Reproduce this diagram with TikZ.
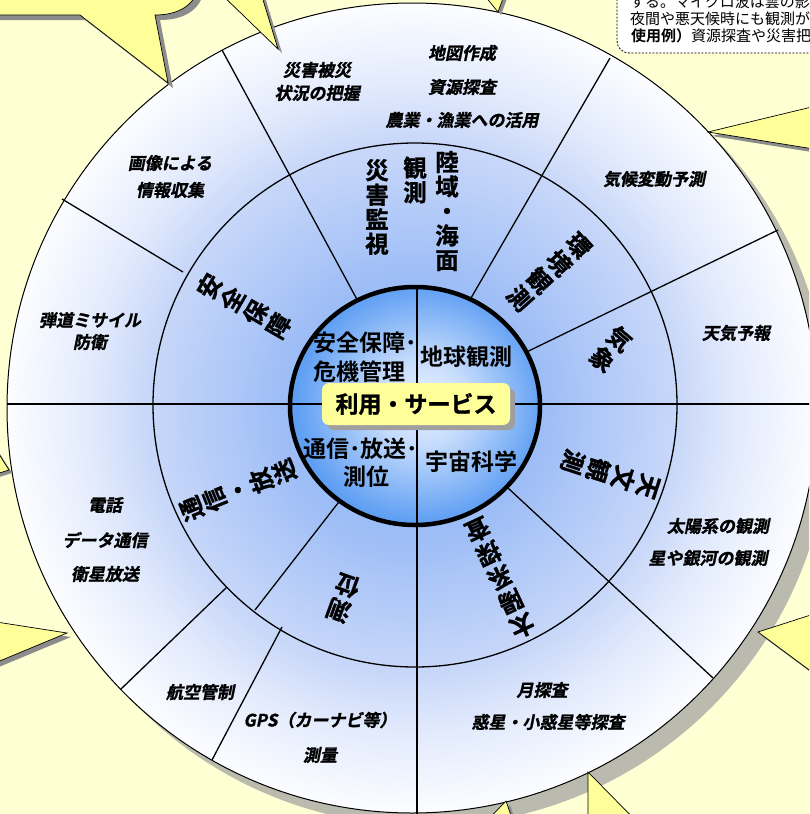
\documentclass[tikz,border=0pt]{standalone}
\usepackage{fontspec}
\newfontfamily\jp{Noto Sans CJK JP}
\newfontfamily\jpb{Noto Sans CJK JP Bold}
\newfontfamily\jpbb{Noto Sans CJK JP Bold}[FakeBold=1.2]
\newfontfamily\jpbi{Noto Sans CJK JP Bold}[FakeSlant=0.2, FakeBold=1.3]
\usetikzlibrary{shadows}
\definecolor{bgc}{HTML}{FFFFD4}
\definecolor{spk}{HTML}{FFFF99}
\definecolor{shd}{HTML}{8C8C8C}
\definecolor{ringshadow}{HTML}{BABAAE}
\definecolor{boxy}{HTML}{FFFF99}
\definecolor{rA}{HTML}{9DBDF6}
\definecolor{rB}{HTML}{B2CAF8}
\definecolor{rC}{HTML}{C9D8F9}
\definecolor{rE}{HTML}{E2EAFC}
\definecolor{rD}{HTML}{FCFDFF}
\definecolor{iA}{HTML}{E8F1FF}
\definecolor{iB}{HTML}{C6DCFC}
\definecolor{iC}{HTML}{5E9EF3}
\pgfdeclareradialshading{ringsh}{\pgfpoint{0bp}{0bp}}{color(0bp)=(rA); color(8bp)=(rA); color(12bp)=(rB); color(16.5bp)=(rC); color(20bp)=(rE); color(25bp)=(rD); color(50bp)=(rD)}
\pgfdeclareradialshading{innersh}{\pgfpoint{2bp}{1bp}}{color(0bp)=(iA); color(9bp)=(iB); color(25bp)=(iC); color(50bp)=(iC)}
\begin{document}
\begin{tikzpicture}[x=1pt,y=-1pt,
  spike/.style={fill=spk, draw=black, line width=0.7pt, line join=miter},
  spikeshadow/.style={fill=shd},
  spoke/.style={draw=black, line width=1.3pt},
  outtxt/.style={font=\jpbi\fontsize{17}{20}\selectfont, inner sep=0},
  midlbl/.style={font=\jpbb\fontsize{24}{26.5}\selectfont, align=center, inner sep=0},
  toplbl/.style={font=\jpbb\fontsize{23.5}{24.5}\selectfont, align=center, inner sep=0},
  inlbl/.style={font=\jpb\fontsize{23}{26}\selectfont, inner sep=0},
  notetxt/.style={font=\jp\fontsize{15}{17}\selectfont, inner sep=0, anchor=west}]
\useasboundingbox (0,0) rectangle (809,814);
\clip (0,0) rectangle (809,814);
\fill[bgc] (0,0) rectangle (809,814);

% outer circle shadow, disc, rings
\coordinate (oc) at (412,408);
\coordinate (mc) at (415,405);
\coordinate (ic) at (415,406);
\fill[ringshadow] (425,421) circle[radius=405pt];
\shade[shading=ringsh] (oc) circle[radius=405pt];
\draw[line width=1pt] (oc) circle[radius=405pt];
\draw[line width=1.3pt] (mc) circle[radius=262pt];

% spokes
\coordinate (s117o) at (222,50);   \coordinate (s117i) at (360,305);
\coordinate (s62o) at (610,58);    \coordinate (s62i) at (460,317);
\coordinate (s26o) at (778,230);   \coordinate (s26i) at (510,360);
\coordinate (s0l) at (7,404);      \coordinate (s0r) at (815,404);
\coordinate (s270t) at (417,290);  \coordinate (s270b) at (417,820);
\coordinate (s318o) at (713,678);  \coordinate (s318i) at (495,476);
\coordinate (s231o) at (255,610);  \coordinate (s231i) at (345,494);
\coordinate (s151o) at (62,199);   \coordinate (s151i) at (183,272);
\coordinate (s224o) at (121,689);  \coordinate (s224i) at (227,587);
\coordinate (s239o) at (212,760);  \coordinate (s239i) at (282,627);
\draw[spoke] (s117o) -- (s117i);
\draw[spoke] (s62o) -- (s62i);
\draw[spoke] (s26o) -- (s26i);
\draw[spoke] (s0l) -- (s0r);
\draw[spoke] (s270t) -- (s270b);
\draw[spoke] (s318o) -- (s318i);
\draw[spoke] (s231o) -- (s231i);
\draw[spoke] (s151o) -- (s151i);
\draw[spoke] (s224o) -- (s224i);
\draw[spoke] (s239o) -- (s239i);

% inner disc
\shade[shading=innersh] (ic) ellipse[x radius=125pt, y radius=119pt];
\coordinate (hl) at (290,404); \coordinate (hr) at (540,404);
\coordinate (vt) at (417,287); \coordinate (vb) at (417,525);
\draw[spoke] (hl) -- (hr);
\draw[spoke] (vt) -- (vb);
\draw[line width=4.5pt] (ic) ellipse[x radius=125pt, y radius=119pt];

% inner quadrant labels
\node[inlbl, anchor=west] (q1a) at (313,343) {安全保障･};
\node[inlbl, anchor=west] (q1b) at (313,372) {危機管理};
\node[inlbl, anchor=west] (q2) at (420,357) {地球観測};
\node[inlbl, anchor=west] (q3a) at (303,449) {通信･放送･};
\node[inlbl] (q3b) at (366,477) {測位};
\node[inlbl, anchor=west] (q4) at (425,462) {宇宙科学};

% centre box
\node[fill=boxy, rounded corners=7pt, minimum width=188pt, minimum height=42pt, inner sep=0,
      font=\jpbb\fontsize{23}{26}\selectfont,
      drop shadow={shadow xshift=5pt, shadow yshift=-5pt, fill=gray!75, opacity=1}] (hub) at (416,404) {利用・サービス};

% middle ring labels (vertical writing, rotated)
\node[toplbl] (m1a) at (447,211) {陸\\域\\・\\海\\面};
\node[toplbl] (m1b) at (415,180) {観\\測};
\node[toplbl] (m1c) at (377,207) {災\\害\\監\\視};
\node[midlbl, rotate=60] (m2) at (244,306) {安\\全\\保\\障};
\node[midlbl, rotate=112, font=\jpbb\fontsize{24}{25}\selectfont] (m3) at (238,490) {通\\信\\・\\放\\送};
\node[midlbl, rotate=160] (m4) at (343,598) {測\\位};
\node[midlbl, rotate=205] (m5) at (500,578) {太\\陽\\系\\探\\査};
\node[midlbl, rotate=252] (m6) at (610,474) {天\\文\\観\\測};
\node[midlbl, rotate=320] (m7) at (611,349) {気\\象};
\node[midlbl, rotate=312] (m8) at (549,272) {環\\境\\観\\測};

% outer ring labels
\node[outtxt] (t1a) at (317,70) {災害被災};
\node[outtxt] (t1b) at (317,93) {状況の把握};
\node[outtxt] (t2a) at (462,53) {地図作成};
\node[outtxt] (t2b) at (462,87) {資源探査};
\node[outtxt] (t2c) at (462,120) {農業・漁業への活用};
\node[outtxt] (t3a) at (170,163) {画像による};
\node[outtxt] (t3b) at (170,190) {情報収集};
\node[outtxt] (t4) at (654,179) {気候変動予測};
\node[outtxt] (t5a) at (90,320) {弾道ミサイル};
\node[outtxt] (t5b) at (90,342) {防衛};
\node[outtxt] (t6) at (736,333) {天気予報};
\node[outtxt] (t7a) at (105,505) {電話};
\node[outtxt] (t7b) at (105,540) {データ通信};
\node[outtxt] (t7c) at (105,574) {衛星放送};
\node[outtxt] (t8a) at (718,526) {太陽系の観測};
\node[outtxt] (t8b) at (708,558) {星や銀河の観測};
\node[outtxt] (t9) at (200,692) {航空管制};
\node[outtxt] (t10a) at (320,720) {GPS（カーナビ等）};
\node[outtxt] (t10b) at (320,755) {測量};
\node[outtxt] (t11a) at (542,690) {月探査};
\node[outtxt] (t11b) at (548,722) {惑星・小惑星等探査};

% starburst spikes (with shadows)
\fill[spikeshadow, shift={(5,5)}] (-10,-10) -- (-10,15) -- (80,15) -- (168,83) -- (155,15) .. controls (175,15) and (192,8) .. (198,-10) -- cycle;
\draw[spike] (-10,-10) -- (-10,15) -- (80,15) -- (168,83) -- (155,15) .. controls (175,15) and (192,8) .. (198,-10) -- cycle;
\fill[spikeshadow, shift={(4,4)}] (217,-10) -- (278,49) -- (260,-10) -- cycle;
\draw[spike] (217,-10) -- (278,49) -- (260,-10) -- cycle;
\fill[spikeshadow, shift={(3,3)}] (480,-10) -- (498,12) -- (506,-10) -- cycle;
\draw[spike] (480,-10) -- (498,12) -- (506,-10) -- cycle;
\fill[spikeshadow, shift={(4,4)}] (820,105) -- (708,132) -- (820,150) -- cycle;
\draw[spike] (820,105) -- (708,132) -- (820,150) -- cycle;
\fill[spikeshadow, shift={(4,4)}] (820,612) -- (758,632) -- (820,678) -- cycle;
\draw[spike] (820,612) -- (758,632) -- (820,678) -- cycle;
\fill[spikeshadow, shift={(4,4)}] (588,830) -- (588,772) -- (645,830) -- cycle;
\draw[spike] (588,830) -- (588,772) -- (645,830) -- cycle;
\fill[spikeshadow, shift={(4,4)}] (478,830) -- (506,801) -- (516,830) -- cycle;
\draw[spike] (478,830) -- (506,801) -- (516,830) -- cycle;
\fill[spikeshadow, shift={(4,4)}] (-10,621) -- (67,633) -- (-10,665) -- cycle;
\draw[spike] (-10,621) -- (67,633) -- (-10,665) -- cycle;
\fill[spikeshadow, shift={(3,3)}] (-10,440) -- (9,470) -- (-10,476) -- cycle;
\draw[spike] (-10,440) -- (9,470) -- (-10,476) -- cycle;

% note box at top right
\draw[fill=white, dash pattern=on 2pt off 1.5pt, line width=0.8pt, rounded corners=12pt] (617,-20) -- (617,53) -- (830,53) -- (830,-20) -- cycle;
\node[notetxt] (n1) at (630,2) {する。マイクロ波は雲の影響};
\node[notetxt] (n2) at (630,19) {夜間や悪天候時にも観測が};
\node[notetxt] (n3) at (631,36) {{\jpb 使用例）}資源探査や災害把};
\end{tikzpicture}
\end{document}
